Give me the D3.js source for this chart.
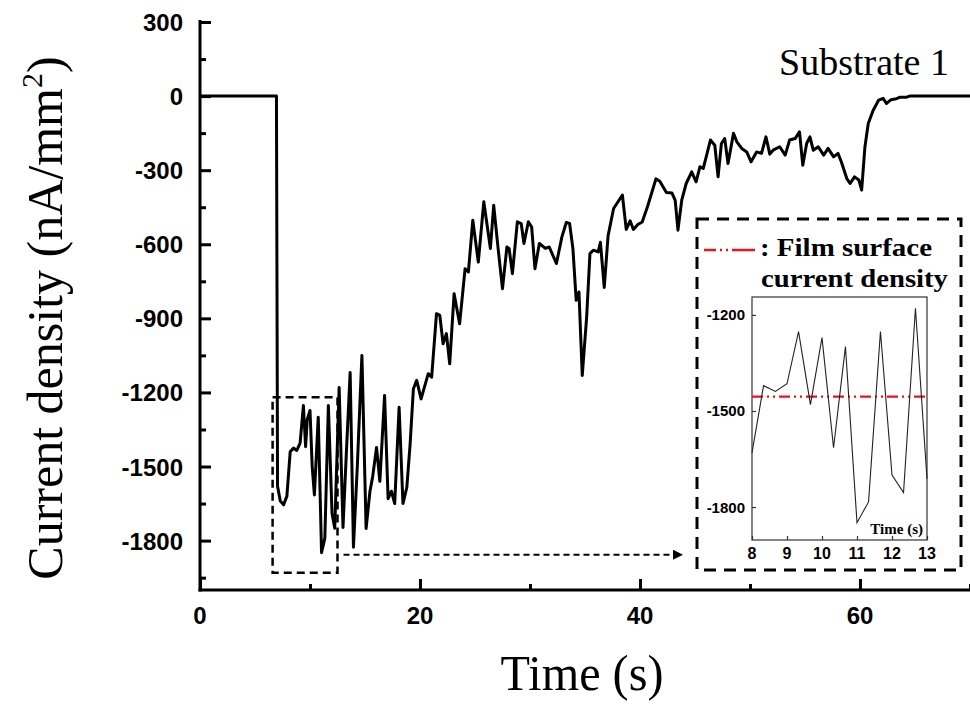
<!DOCTYPE html>
<html>
<head>
<meta charset="utf-8">
<script src="https://cdn.jsdelivr.net/npm/d3@7"></script>
<style>
  html, body { margin: 0; padding: 0; background: #fff; }
  svg { display: block; }
</style>
</head>
<body>
<svg id="chart" width="970" height="705"></svg>
<script>
// ---------------- DATA ----------------
const mainTime = [0, 6.95, 7.05, 7.3, 7.6, 7.9, 8.2, 8.5, 8.8, 9.1, 9.4, 9.6, 9.75, 10.0, 10.2, 10.4, 10.75, 11.05, 11.35, 11.67, 12.0, 12.25, 12.65, 13.0, 13.3, 13.65, 13.95, 14.3, 14.72, 15.1, 15.45, 15.7, 16.05, 16.35, 16.78, 17.1, 17.4, 17.7, 18.1, 18.45, 18.8, 19.1, 19.4, 19.7, 20.1, 20.75, 21.06, 21.5, 21.8, 22.1, 22.4, 22.7, 23.1, 23.6, 24.1, 24.4, 24.8, 25.3, 25.8, 26.4, 26.7, 27.1, 27.5, 27.9, 28.1, 28.4, 28.85, 29.2, 29.45, 29.85, 30.15, 30.45, 30.85, 31.4, 31.75, 32.4, 32.9, 33.3, 33.6, 33.9, 34.2, 34.45, 34.75, 35.15, 35.45, 35.75, 36.2, 36.4, 36.75, 37.1, 37.6, 38.0, 38.4, 38.75, 39.1, 39.4, 39.8, 40.2, 40.7, 41.45, 41.8, 42.4, 42.9, 43.2, 43.45, 43.8, 44.2, 44.7, 45.1, 45.45, 45.75, 46.1, 46.4, 46.8, 47.1, 47.4, 47.7, 48.0, 48.5, 48.8, 49.25, 49.7, 50.1, 50.6, 51.05, 51.45, 51.8, 52.1, 52.7, 53.2, 53.6, 54.1, 54.5, 54.8, 55.15, 55.45, 55.75, 56.2, 56.7, 57.1, 57.6, 58.0, 58.3, 58.8, 59.1, 59.5, 59.9, 60.15, 60.45, 60.75, 61.2, 61.7, 62.1, 62.4, 62.8, 63.2, 63.6, 64.2, 64.5, 70];
const mainCurrent = [0, 0, -1580, -1640, -1655, -1620, -1440, -1425, -1435, -1405, -1253, -1420, -1310, -1273, -1500, -1615, -1300, -1849, -1790, -1253, -1690, -1750, -1180, -1747, -1450, -1119, -1827, -1500, -1050, -1751, -1600, -1540, -1423, -1560, -1212, -1630, -1600, -1650, -1260, -1650, -1585, -1410, -1185, -1151, -1226, -1124, -1138, -881, -888, -1003, -962, -1084, -800, -922, -699, -712, -503, -672, -428, -617, -442, -617, -780, -611, -617, -719, -509, -516, -597, -509, -530, -699, -597, -617, -611, -678, -570, -512, -516, -617, -827, -793, -1131, -895, -638, -624, -631, -592, -775, -565, -455, -428, -401, -540, -505, -540, -520, -510, -445, -335, -345, -390, -392, -422, -543, -420, -354, -307, -347, -286, -293, -232, -178, -199, -327, -192, -172, -273, -151, -185, -212, -226, -266, -226, -232, -165, -235, -219, -205, -239, -178, -172, -145, -280, -192, -165, -219, -205, -239, -212, -246, -232, -266, -334, -354, -327, -340, -381, -205, -111, -57, -16, -9, -30, -15, -12, -5, -5, 0, 0];

const insetTime = [8, 8.33, 8.67, 9, 9.33, 9.67, 10, 10.33, 10.67, 11, 11.33, 11.67, 12, 12.33, 12.67, 13];
const insetCurrent = [-1631, -1421, -1439, -1415, -1252, -1480, -1271, -1615, -1299, -1849, -1784, -1252, -1700, -1755, -1179, -1712];
const filmSurfaceCurrent = -1455;

const xMajorTicks = [0, 20, 40, 60];
const xMinorTicks = [10, 30, 50, 70];
const yMajorTicks = [300, 0, -300, -600, -900, -1200, -1500, -1800];
const yMinorTicks = [150, -150, -450, -750, -1050, -1350, -1650, -1950];
const insetXTicks = [8, 9, 10, 11, 12, 13];
const insetYTicks = [-1200, -1500, -1800];

const zoomWindowTime = [6.6, 12.5];
const zoomWindowCurrent = [-1220, -1930];

// ---------------- LAYOUT ----------------
const svg = d3.select("#chart");
const pLeft = 200, pTop = 22, pRight = 970, pBottom = 590;

const x = d3.scaleLinear().domain([0, 70]).range([pLeft, pRight]);
const y = d3.scaleLinear().domain([-2000, 300]).range([pBottom, pTop]);

const ink = "#000";
const axisFont = "'Liberation Sans', Arial, sans-serif";
const serif = "'Liberation Serif', 'Times New Roman', serif";

// main line
const line = d3.line().x(d => x(d[0])).y(d => y(d[1])).curve(d3.curveLinear);
const mainData = mainTime.map((t, i) => [t, mainCurrent[i]]);
svg.append("path")
  .datum(mainData)
  .attr("d", line)
  .attr("fill", "none")
  .attr("stroke", ink)
  .attr("stroke-width", 3)
  .attr("stroke-linejoin", "round");

// axes (inward ticks)
const yAxisG = svg.append("g").attr("transform", `translate(${pLeft},0)`);
yAxisG.call(d3.axisRight(y).tickValues(yMajorTicks).tickSize(11).tickFormat(""))
  .call(g => g.select(".domain").remove());
yAxisG.append("g").call(d3.axisRight(y).tickValues(yMinorTicks.filter(v => v > -2000)).tickSize(6).tickFormat(""))
  .call(g => g.select(".domain").remove());
yAxisG.selectAll("line").attr("stroke", ink).attr("stroke-width", 3);
yAxisG.append("line").attr("x1", 0).attr("x2", 0).attr("y1", pTop - 2).attr("y2", pBottom + 1.5)
  .attr("stroke", ink).attr("stroke-width", 3);

svg.append("g").selectAll("text").data(yMajorTicks).join("text")
  .attr("x", 183).attr("y", d => y(d) + 9)
  .attr("text-anchor", "end")
  .attr("font-family", axisFont).attr("font-weight", "bold").attr("font-size", 24)
  .attr("fill", ink)
  .text(d => d);

const xAxisG = svg.append("g").attr("transform", `translate(0,${pBottom})`);
xAxisG.call(d3.axisTop(x).tickValues(xMajorTicks).tickSize(11).tickFormat(""))
  .call(g => g.select(".domain").remove());
xAxisG.append("g").call(d3.axisTop(x).tickValues(xMinorTicks).tickSize(6).tickFormat(""))
  .call(g => g.select(".domain").remove());
xAxisG.selectAll("line").attr("stroke", ink).attr("stroke-width", 3);
xAxisG.append("line").attr("x1", pLeft - 1.5).attr("x2", pRight).attr("y1", 0).attr("y2", 0)
  .attr("stroke", ink).attr("stroke-width", 3);

svg.append("g").selectAll("text").data(xMajorTicks).join("text")
  .attr("x", d => x(d)).attr("y", 624)
  .attr("text-anchor", "middle")
  .attr("font-family", axisFont).attr("font-weight", "bold").attr("font-size", 24)
  .attr("fill", ink)
  .text(d => d);

// axis titles
svg.append("text")
  .attr("x", 582).attr("y", 690)
  .attr("text-anchor", "middle")
  .attr("font-family", serif).attr("font-size", 50)
  .attr("textLength", 163).attr("lengthAdjust", "spacingAndGlyphs")
  .attr("fill", ink)
  .text("Time (s)");

const yTitle = svg.append("text")
  .attr("transform", "translate(62,318) rotate(-90)")
  .attr("text-anchor", "middle")
  .attr("font-family", serif).attr("font-size", 50)
  .attr("fill", ink);
yTitle.append("tspan").text("Current density (nA/mm");
yTitle.append("tspan").attr("font-size", 30).attr("dy", -20).text("2");
yTitle.append("tspan").attr("dy", 20).text(")");

// Substrate label
svg.append("text")
  .attr("x", 949).attr("y", 75)
  .attr("text-anchor", "end")
  .attr("font-family", serif).attr("font-size", 38)
  .attr("fill", ink)
  .text("Substrate 1");

// zoom window dashed rectangle on main plot
svg.append("rect")
  .attr("x", x(zoomWindowTime[0])).attr("y", y(zoomWindowCurrent[0]))
  .attr("width", x(zoomWindowTime[1]) - x(zoomWindowTime[0]))
  .attr("height", y(zoomWindowCurrent[1]) - y(zoomWindowCurrent[0]))
  .attr("fill", "none").attr("stroke", ink).attr("stroke-width", 2.5)
  .attr("stroke-dasharray", "8,5");

// dashed arrow
const arrowY = y(-1857);
svg.append("defs").append("marker")
  .attr("id", "arrowhead").attr("viewBox", "0 0 10 10")
  .attr("refX", 9).attr("refY", 5)
  .attr("markerWidth", 5).attr("markerHeight", 5)
  .attr("markerUnits", "strokeWidth")
  .attr("orient", "auto")
  .append("path").attr("d", "M0,0 L10,5 L0,10 z").attr("fill", ink);
svg.append("line")
  .attr("x1", x(zoomWindowTime[1]) + 6).attr("x2", 682)
  .attr("y1", arrowY).attr("y2", arrowY)
  .attr("stroke", ink).attr("stroke-width", 2)
  .attr("stroke-dasharray", "6,4")
  .attr("marker-end", "url(#arrowhead)");

// ---------------- INSET ----------------
svg.append("rect")
  .attr("x", 697).attr("y", 219).attr("width", 264).attr("height", 351)
  .attr("fill", "#fff").attr("stroke", ink).attr("stroke-width", 3)
  .attr("stroke-dasharray", "12,8");

const ix = d3.scaleLinear().domain([8, 13]).range([752, 927]);
const iy = d3.scaleLinear().domain([-1903, -1144]).range([540, 297]);

// frame
svg.append("rect")
  .attr("x", ix(8)).attr("y", iy(-1144))
  .attr("width", ix(13) - ix(8)).attr("height", iy(-1903) - iy(-1144))
  .attr("fill", "none").attr("stroke", "#333").attr("stroke-width", 1.2);

// inset ticks
const ixAxis = svg.append("g").attr("transform", `translate(0,${iy(-1903)})`)
  .call(d3.axisTop(ix).tickValues(insetXTicks).tickSize(4).tickFormat(""))
  .call(g => g.select(".domain").remove());
ixAxis.selectAll("line").attr("stroke", "#333").attr("stroke-width", 1.2);
const iyAxis = svg.append("g").attr("transform", `translate(${ix(8)},0)`)
  .call(d3.axisRight(iy).tickValues(insetYTicks).tickSize(4).tickFormat(""))
  .call(g => g.select(".domain").remove());
iyAxis.selectAll("line").attr("stroke", "#333").attr("stroke-width", 1.2);

svg.append("g").selectAll("text").data(insetXTicks).join("text")
  .attr("x", d => ix(d)).attr("y", 559)
  .attr("text-anchor", "middle")
  .attr("font-family", axisFont).attr("font-weight", "bold").attr("font-size", 16)
  .attr("fill", ink).text(d => d);
svg.append("g").selectAll("text").data(insetYTicks).join("text")
  .attr("x", 745).attr("y", d => iy(d) + 5.5)
  .attr("text-anchor", "end")
  .attr("font-family", axisFont).attr("font-weight", "bold").attr("font-size", 15)
  .attr("fill", ink).text(d => d);

// film surface reference line
const dashDot = "11,4,2,4,2,4";
svg.append("line")
  .attr("x1", ix(8)).attr("x2", ix(13))
  .attr("y1", iy(filmSurfaceCurrent)).attr("y2", iy(filmSurfaceCurrent))
  .attr("stroke", "#e8141b").attr("stroke-width", 2.2)
  .attr("stroke-dasharray", dashDot);

// inset line
const iline = d3.line().x(d => ix(d[0])).y(d => iy(d[1]));
svg.append("path")
  .datum(insetTime.map((t, i) => [t, insetCurrent[i]]))
  .attr("d", iline)
  .attr("fill", "none").attr("stroke", "#222").attr("stroke-width", 1.1);

svg.append("text")
  .attr("x", 923).attr("y", 534)
  .attr("text-anchor", "end")
  .attr("font-family", serif).attr("font-weight", "bold").attr("font-size", 15)
  .attr("fill", ink).text("Time (s)");

// legend
svg.append("line")
  .attr("x1", 704).attr("x2", 755).attr("y1", 250).attr("y2", 250)
  .attr("stroke", "#e8141b").attr("stroke-width", 2.4)
  .attr("stroke-dasharray", "12,4,2,4,2,4,30");
svg.append("text")
  .attr("x", 760).attr("y", 256)
  .attr("font-family", serif).attr("font-weight", "bold").attr("font-size", 25)
  .attr("textLength", 172).attr("lengthAdjust", "spacingAndGlyphs")
  .attr("fill", ink).text(": Film surface");
svg.append("text")
  .attr("x", 948).attr("y", 287)
  .attr("text-anchor", "end")
  .attr("font-family", serif).attr("font-weight", "bold").attr("font-size", 25)
  .attr("textLength", 187).attr("lengthAdjust", "spacingAndGlyphs")
  .attr("fill", ink).text("current density");
</script>
</body>
</html>
